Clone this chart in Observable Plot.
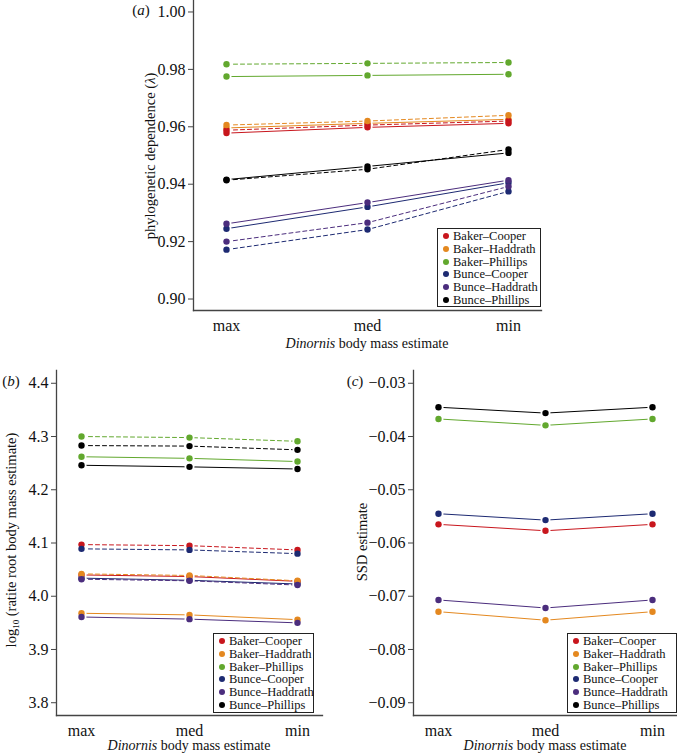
<!DOCTYPE html>
<html>
<head>
<meta charset="utf-8">
<script src="https://cdn.jsdelivr.net/npm/d3@7"></script>
<script src="https://cdn.jsdelivr.net/npm/@observablehq/plot@0.6"></script>
<style>
  html, body { margin: 0; padding: 0; background: #fff; overflow: hidden; }
  #root { position: relative; width: 677px; height: 756px; font-family: "Liberation Serif", "DejaVu Serif", serif; color: #111; }
  #root svg text { font-size: 16px; font-family: "Liberation Serif", serif; }
  .panel { position: absolute; }
  .lbl { position: absolute; white-space: nowrap; transform: translate(-50%, -50%); font-size: 14px; }
  .ylbl { position: absolute; white-space: nowrap; transform: translate(-50%, -50%) rotate(-90deg); font-size: 14.5px; }
  .legend { position: absolute; border: 1px solid #222; background: #fff; box-sizing: border-box; padding: 1px 0 0 5px; font-size: 12.5px; line-height: 12.8px; }
  .legend .row { white-space: nowrap; }
  .legend .dot { display: inline-block; width: 6px; height: 6px; border-radius: 50%; margin-right: 4px; vertical-align: 1px; }
</style>
</head>
<body>
<div id="root"></div>
<script>
// ---- data ----
const estimates = ["max", "med", "min"];
const seriesNames = ["Baker–Cooper", "Baker–Haddrath", "Baker–Phillips", "Bunce–Cooper", "Bunce–Haddrath", "Bunce–Phillips"];
const seriesColors = ["#c8161d", "#e4881f", "#62a82e", "#1d2a72", "#4b2d7d", "#000000"];

// (a) phylogenetic dependence (lambda), rows follow seriesNames, columns follow estimates
const lambdaSolid = [
  [0.9578, 0.9598, 0.9612],
  [0.9596, 0.9612, 0.9626],
  [0.9775, 0.9779, 0.9783],
  [0.9245, 0.9321, 0.9405],
  [0.9262, 0.9336, 0.9414],
  [0.9416, 0.9462, 0.9509]
];
const lambdaDashed = [
  [0.9588, 0.9606, 0.9620],
  [0.9606, 0.9620, 0.9640],
  [0.9818, 0.9821, 0.9824],
  [0.9172, 0.9242, 0.9375],
  [0.9200, 0.9266, 0.9392],
  [0.9414, 0.9452, 0.9521]
];
// (b) log10 ratite root body mass estimate
const massSolid = [
  [4.040, 4.037, 4.028],
  [3.968, 3.965, 3.956],
  [4.262, 4.259, 4.253],
  [4.034, 4.030, 4.023],
  [3.961, 3.957, 3.950],
  [4.246, 4.243, 4.239]
];
const massDashed = [
  [4.097, 4.095, 4.087],
  [4.042, 4.039, 4.029],
  [4.300, 4.298, 4.291],
  [4.089, 4.087, 4.080],
  [4.032, 4.029, 4.021],
  [4.283, 4.282, 4.275]
];
// (c) SSD estimate
const ssdValues = [
  [-0.0565, -0.0577, -0.0565],
  [-0.0729, -0.0745, -0.0729],
  [-0.0367, -0.0379, -0.0367],
  [-0.0545, -0.0557, -0.0545],
  [-0.0707, -0.0722, -0.0707],
  [-0.0345, -0.0356, -0.0345]
];
const ticksA = [0.90, 0.92, 0.94, 0.96, 0.98, 1.00];
const ticksB = [3.8, 3.9, 4.0, 4.1, 4.2, 4.3, 4.4];
const ticksC = [-0.09, -0.08, -0.07, -0.06, -0.05, -0.04, -0.03];

// ---- helpers ----
function toRows(values, type) {
  return values.flatMap((vals, i) => vals.map((v, j) => ({series: seriesNames[i], estimate: estimates[j], value: v, type})));
}

const root = document.getElementById("root");

function panel({solid, dashed, ticks, fmt, domain, left, top, width, height, mL, mR, mT, mB}) {
  const all = dashed ? solid.concat(dashed) : solid;
  const marks = [
    Plot.frame({anchor: "left", stroke: "#444", strokeWidth: 1.3}),
    Plot.frame({anchor: "bottom", stroke: "#444", strokeWidth: 1.3}),
    Plot.axisY({ticks, tickSize: 5, tickPadding: 3, tickFormat: d3.format(fmt), label: null, stroke: "#444", fontSize: 16}),
    Plot.axisX({tickSize: 0, tickPadding: 9, label: null, fontSize: 16}),
    Plot.line(solid, {x: "estimate", y: "value", z: "series", stroke: "series", strokeWidth: 1})
  ];
  if (dashed) marks.push(Plot.line(dashed, {x: "estimate", y: "value", z: "series", stroke: "series", strokeWidth: 1, strokeDasharray: "4,3"}));
  marks.push(Plot.dot(all, {x: "estimate", y: "value", r: 5, fill: "white", stroke: "none"}));
  marks.push(Plot.dot(all, {x: "estimate", y: "value", r: 3.2, fill: "series", stroke: "none"}));
  const svg = Plot.plot({
    width, height,
    marginLeft: mL, marginRight: mR, marginTop: mT, marginBottom: mB,
    style: {fontFamily: "'Liberation Serif', serif", fontSize: "16px", background: "transparent", color: "#111", overflow: "visible"},
    x: {type: "point", domain: estimates, padding: 0.23, label: null},
    y: {domain, label: null},
    color: {domain: seriesNames, range: seriesColors},
    marks
  });
  svg.classList.add("panel");
  svg.style.left = left + "px";
  svg.style.top = top + "px";
  root.appendChild(svg);
}

panel({solid: toRows(lambdaSolid, "solid"), dashed: toRows(lambdaDashed, "dashed"), ticks: ticksA, fmt: ".2f",
  domain: [0.896, 1.004], left: 0, top: 0, width: 560, height: 360, mL: 193, mR: 19, mT: 0, mB: 50});
panel({solid: toRows(massSolid, "solid"), dashed: toRows(massDashed, "dashed"), ticks: ticksB, fmt: ".1f",
  domain: [3.776, 4.424], left: 0, top: 360, width: 340, height: 396, mL: 56, mR: 18, mT: 10, mB: 41});
panel({solid: toRows(ssdValues, "solid"), dashed: null, ticks: ticksC, fmt: ".2f",
  domain: [-0.0924, -0.0276], left: 340, top: 360, width: 337, height: 396, mL: 73, mR: 0, mT: 10, mB: 41});

function addText(cls, html, x, y, extra) {
  const d = document.createElement("div");
  d.className = cls;
  d.innerHTML = html;
  d.style.left = x + "px";
  d.style.top = y + "px";
  if (extra) Object.assign(d.style, extra);
  root.appendChild(d);
}
// axis titles
addText("lbl", "<i>Dinornis</i> body mass estimate", 367, 344);
addText("lbl", "<i>Dinornis</i> body mass estimate", 189, 746);
addText("lbl", "<i>Dinornis</i> body mass estimate", 545, 746);
addText("ylbl", "phylogenetic dependence (<i>λ</i>)", 150, 156);
addText("ylbl", "log<sub style='font-size:9px'>10</sub> (ratite root body mass estimate)", 12, 540);
addText("ylbl", "SSD estimate", 362, 542);
// panel labels
addText("lbl", "(<i>a</i>)", 141, 10, {fontSize: "15px"});
addText("lbl", "(<i>b</i>)", 11, 381, {fontSize: "15px"});
addText("lbl", "(<i>c</i>)", 355, 381, {fontSize: "15px"});

// legends
function addLegend(x, y, w, h) {
  const d = document.createElement("div");
  d.className = "legend";
  Object.assign(d.style, {left: x + "px", top: y + "px", width: w + "px", height: h + "px"});
  seriesNames.forEach((name, i) => {
    const r = document.createElement("div");
    r.className = "row";
    r.innerHTML = `<span class="dot" style="background:${seriesColors[i]}"></span>${name}`;
    d.appendChild(r);
  });
  root.appendChild(d);
}
addLegend(437, 228, 104, 79);
addLegend(213, 633, 101, 80);
addLegend(567, 633, 110, 80);
</script>
</body>
</html>
